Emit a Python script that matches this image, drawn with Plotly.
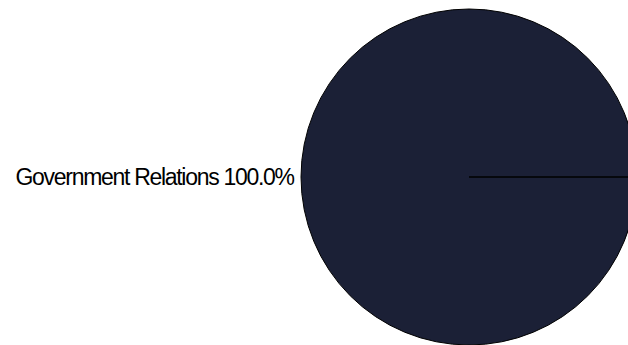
import plotly.graph_objects as go

categories = ["Government Relations", " "]
values = [100, 0]
slice_colors = ["#1b2036", "#000000"]
label_templates = [
    "<span style='letter-spacing:-1.3px'>%{label} %{percent:.1%}</span>",
    "",
]

W, H = 640, 345

fig = go.Figure(
    go.Pie(
        labels=categories,
        values=values,
        sort=False,
        direction="clockwise",
        rotation=90,
        marker=dict(colors=slice_colors, line=dict(color="#000000", width=1)),
        textposition="outside",
        texttemplate=label_templates,
        textfont=dict(family="Liberation Sans, Arial", size=23, color="#000000"),
        showlegend=False,
        domain=dict(x=[0.465625, 1.0], y=[0, 1]),
    )
)
fig.update_layout(
    width=W,
    height=H,
    margin=dict(l=0, r=0, t=9, b=0, autoexpand=False),
    paper_bgcolor="white",
    plot_bgcolor="white",
)
fig.write_html(
    "out.html",
    config={"displayModeBar": False},
    post_script=(
        "document.body.style.margin='0';"
        "document.documentElement.style.overflow='hidden';"
        "document.body.style.overflow='hidden';"
    ),
)
